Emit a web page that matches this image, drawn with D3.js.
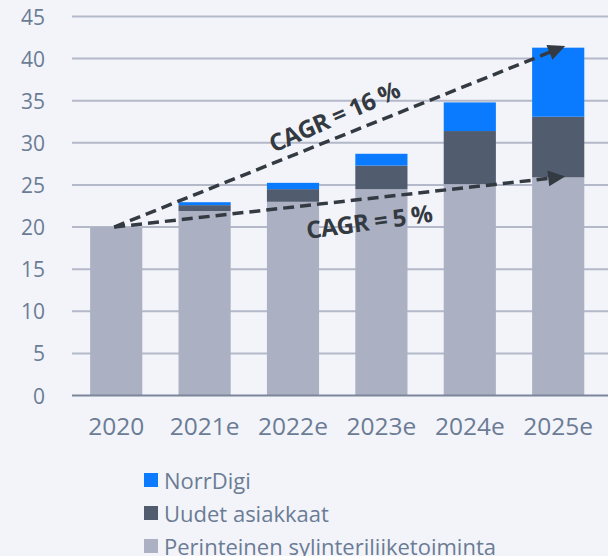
<!DOCTYPE html>
<html>
<head>
<meta charset="utf-8">
<script src="https://cdn.jsdelivr.net/npm/d3@7"></script>
<style>
  html, body { margin: 0; padding: 0; background: #f3f4f9; }
  svg { display: block; font-family: "Open Sans", Lato, sans-serif; }
</style>
</head>
<body>
<svg id="chart" width="608" height="556"></svg>
<script>
const years = ["2020", "2021e", "2022e", "2023e", "2024e", "2025e"];
const perinteinen = [20, 21.9, 23.0, 24.5, 25.1, 25.9];
const uudet = [0, 0.7, 1.5, 2.8, 6.3, 7.2];
const norrdigi = [0, 0.35, 0.75, 1.4, 3.4, 8.2];
const yTicks = [0, 5, 10, 15, 20, 25, 30, 35, 40, 45];
const seriesNames = ["Perinteinen sylinteriliiketoiminta", "Uudet asiakkaat", "NorrDigi"];
const seriesColors = ["#abb1c3", "#515c6e", "#0a7bff"];
const cagrLabels = ["CAGR = 16 %", "CAGR = 5 %"];
const cagrEnd = [41.5, 26.0];

const svg = d3.select("#chart");

const y = d3.scaleLinear().domain([0, 45]).range([395.5, 16.5]);
const x = d3.scaleBand().domain(years).range([72, 602.4])
    .paddingInner(0.41).paddingOuter(0.205);

const rows = years.map((yr, i) => ({
    year: yr,
    p: perinteinen[i], u: uudet[i], n: norrdigi[i]
}));
const stack = d3.stack().keys(["p", "u", "n"])(rows);

// grid
svg.append("g").selectAll("line")
    .data(yTicks.filter(d => d > 0))
    .join("line")
    .attr("x1", 72).attr("x2", 608)
    .attr("y1", d => y(d)).attr("y2", d => y(d))
    .attr("stroke", "#b3b9c9").attr("stroke-width", 2);

svg.append("g").selectAll("text")
    .data(yTicks)
    .join("text")
    .attr("x", 45).attr("y", d => y(d))
    .attr("text-anchor", "end").attr("dominant-baseline", "central")
    .attr("fill", "#6b7c95").attr("font-size", 21)
    .text(d => d);

// bars
stack.forEach((layer, k) => {
    svg.append("g").selectAll("rect")
        .data(layer.filter(d => d[1] - d[0] > 0))
        .join("rect")
        .attr("x", d => x(d.data.year))
        .attr("width", x.bandwidth())
        .attr("y", d => y(d[1]))
        .attr("height", d => y(d[0]) - y(d[1]))
        .attr("fill", seriesColors[k]);
});

// baseline
svg.append("line")
    .attr("x1", 72).attr("x2", 608)
    .attr("y1", y(0)).attr("y2", y(0))
    .attr("stroke", "#7c869b").attr("stroke-width", 2);

svg.append("g").selectAll("text")
    .data(years)
    .join("text")
    .attr("x", d => x(d) + x.bandwidth() / 2)
    .attr("y", 425)
    .attr("text-anchor", "middle").attr("dominant-baseline", "central")
    .attr("fill", "#6b7c95").attr("font-size", 24.5)
    .text(d => d);

// CAGR arrows
const x0 = x("2020") + x.bandwidth() / 2 - 2;
const x1 = x("2025e") + x.bandwidth() / 2 + 7;
const labelPos = [[334, 116], [369, 221]];

cagrEnd.forEach((v, i) => {
    const ax = x0, ay = y(20), bx = x1, by = y(v);
    const ang = Math.atan2(by - ay, bx - ax);
    svg.append("line")
        .attr("x1", ax).attr("y1", ay)
        .attr("x2", bx - 10 * Math.cos(ang))
        .attr("y2", by - 10 * Math.sin(ang))
        .attr("stroke", "#343a42").attr("stroke-width", 3.5)
        .attr("stroke-dasharray", "11,6");
    const len = 17, half = 8;
    const base = [bx - len * Math.cos(ang), by - len * Math.sin(ang)];
    const p1 = [base[0] + half * Math.sin(ang), base[1] - half * Math.cos(ang)];
    const p2 = [base[0] - half * Math.sin(ang), base[1] + half * Math.cos(ang)];
    svg.append("path")
        .attr("d", "M" + [bx, by] + "L" + p1 + "L" + p2 + "Z")
        .attr("fill", "#343a42");

    const [lx, ly] = labelPos[i];
    const rot = ang * 180 / Math.PI - (i === 0 ? 2 : 1.5);
    svg.append("text")
        .attr("transform", `translate(${lx},${ly}) rotate(${rot})`)
        .attr("text-anchor", "middle").attr("dominant-baseline", "central")
        .attr("fill", "#343a42").attr("font-size", 24).attr("font-weight", 700)
        .attr("letter-spacing", -0.6)
        .text(cagrLabels[i]);
});

// legend
const legendItems = [2, 1, 0];
const lg = svg.append("g").selectAll("g")
    .data(legendItems)
    .join("g")
    .attr("transform", (d, i) => `translate(144,${480 + i * 33})`);
lg.append("rect")
    .attr("x", 0).attr("y", -7).attr("width", 14).attr("height", 14)
    .attr("fill", d => seriesColors[d]);
lg.append("text")
    .attr("x", 20).attr("y", 0)
    .attr("dominant-baseline", "central")
    .attr("fill", "#6b7c95").attr("font-size", 22)
    .text(d => seriesNames[d]);
</script>
</body>
</html>
